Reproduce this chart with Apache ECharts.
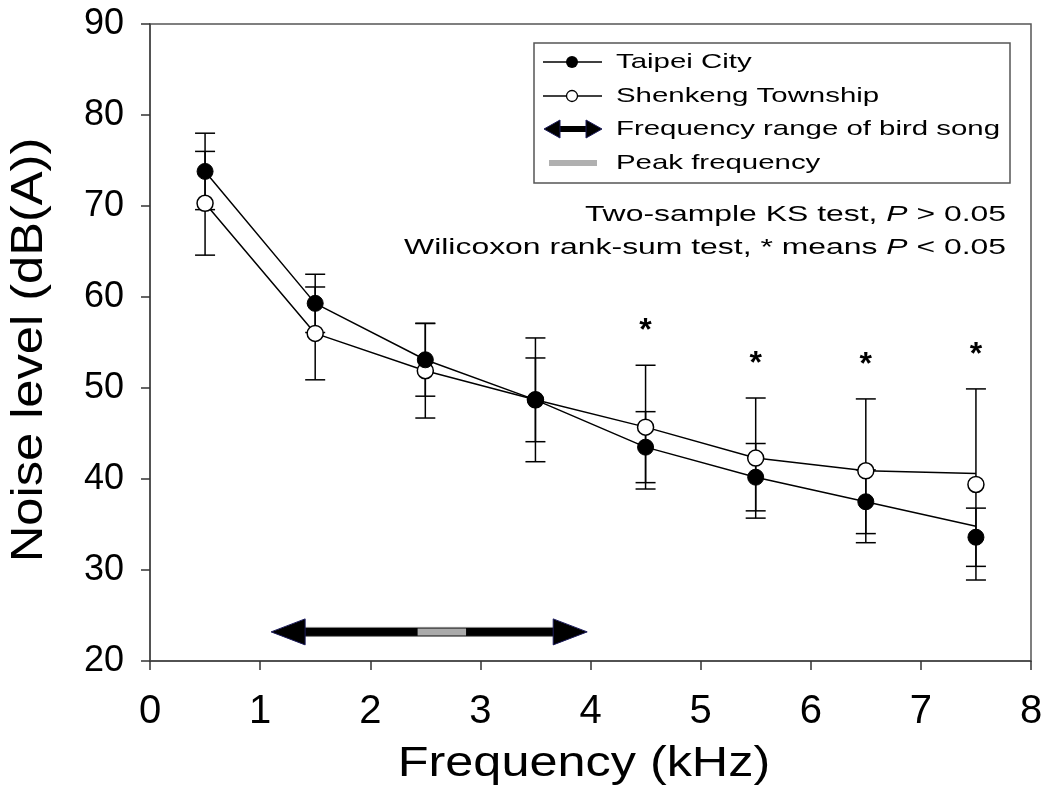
<!DOCTYPE html>
<html>
<head>
<meta charset="utf-8">
<script src="https://cdn.jsdelivr.net/npm/echarts@6/dist/echarts.min.js"></script>
<style>
  html, body { margin: 0; padding: 0; background: #fff; }
  #chart { width: 1046px; height: 791px; }
</style>
</head>
<body>
<div id="chart"></div>
<script>
// Band centre frequencies (kHz)
const frequency = [0.5, 1.5, 2.5, 3.5, 4.5, 5.5, 6.5, 7.5];

// Mean noise level (dB(A)) and error-bar half widths per band
const taipeiMean   = [73.8, 59.3, 53.1, 48.7, 43.5, 40.2, 37.5, 33.6];
const taipeiErr    = [4.2, 3.2, 4.0, 4.6, 3.9, 3.7, 3.5, 3.2];
const shenkengMean = [70.3, 56.0, 51.9, 48.7, 45.7, 42.3, 40.9, 39.4];
const shenkengErr  = [5.7, 5.1, 5.2, 6.8, 6.8, 6.6, 7.9, 10.5];

// Connecting-line vertices (the last segment ends slightly above the final means)
const taipeiLine   = [73.8, 59.3, 53.1, 48.7, 43.5, 40.2, 37.5, 34.8];
const shenkengLine = [70.3, 56.0, 51.9, 48.7, 45.7, 42.3, 40.9, 40.6];

// Wilcoxon rank-sum significance per band
const significant = [false, false, false, false, true, true, true, true];

// Bird song frequency range and peak frequency (kHz), drawn at this level
const songRange = [1.1, 3.97];
const peakRange = [2.43, 2.87];
const arrowLevel = 23.2;

// Axis ranges
const xRange = [0, 8, 1];
const yRange = [20, 90, 10];

const FONT = '"Liberation Sans", Arial, sans-serif';
const INK = '#000';

function errorBars(name, mean, err, z) {
  return {
    type: 'custom',
    name: name,
    z: z,
    silent: true,
    encode: { x: 0, y: [1, 2] },
    data: frequency.map((f, i) => [f, mean[i] - err[i], mean[i] + err[i]]),
    renderItem: function (params, api) {
      const x = api.value(0);
      const lo = api.coord([x, api.value(1)]);
      const hi = api.coord([x, api.value(2)]);
      const hw = 10;
      const style = { stroke: INK, lineWidth: 1.5 };
      return {
        type: 'group',
        children: [
          { type: 'line', shape: { x1: lo[0], y1: lo[1], x2: hi[0], y2: hi[1] }, style: style },
          { type: 'line', shape: { x1: lo[0] - hw, y1: lo[1], x2: lo[0] + hw, y2: lo[1] }, style: style },
          { type: 'line', shape: { x1: hi[0] - hw, y1: hi[1], x2: hi[0] + hw, y2: hi[1] }, style: style }
        ]
      };
    }
  };
}

// Asterisks sit a fixed distance above the highest error bar of a band
const starData = [];
frequency.forEach((f, i) => {
  if (significant[i]) {
    starData.push([f, Math.max(taipeiMean[i] + taipeiErr[i], shenkengMean[i] + shenkengErr[i])]);
  }
});

const option = {
  backgroundColor: '#fff',
  animation: false,
  grid: {
    left: 150, top: 24, width: 881, height: 637,
    show: true, borderColor: '#555', borderWidth: 1.5,
    containLabel: false, outerBoundsMode: 'none'
  },
  xAxis: {
    type: 'value', min: xRange[0], max: xRange[1], interval: xRange[2],
    axisLine: { show: true, onZero: false, lineStyle: { color: '#444', width: 1.5 } },
    axisTick: { show: true, inside: false, length: 9, lineStyle: { color: '#333', width: 1.5 } },
    axisLabel: { fontSize: 40, fontFamily: FONT, color: INK, margin: 31 },
    splitLine: { show: false }
  },
  yAxis: {
    type: 'value', min: yRange[0], max: yRange[1], interval: yRange[2],
    axisLine: { show: true, onZero: false, lineStyle: { color: '#444', width: 1.5 } },
    axisTick: { show: true, inside: false, length: 9, lineStyle: { color: '#333', width: 1.5 } },
    axisLabel: { fontSize: 36, fontFamily: FONT, color: INK, margin: 26 },
    splitLine: { show: false }
  },
  series: [
    errorBars('Shenkeng error', shenkengMean, shenkengErr, 1),
    errorBars('Taipei error', taipeiMean, taipeiErr, 1),
    {
      type: 'line', name: 'Shenkeng Township line', z: 2, silent: true,
      data: frequency.map((f, i) => [f, shenkengLine[i]]),
      showSymbol: false, lineStyle: { color: INK, width: 1.5 }
    },
    {
      type: 'line', name: 'Taipei City line', z: 2, silent: true,
      data: frequency.map((f, i) => [f, taipeiLine[i]]),
      showSymbol: false, lineStyle: { color: INK, width: 1.5 }
    },
    {
      type: 'scatter', name: 'Shenkeng Township', z: 3, silent: true,
      data: frequency.map((f, i) => [f, shenkengMean[i]]),
      symbol: 'circle', symbolSize: 16,
      itemStyle: { color: '#fff', borderColor: INK, borderWidth: 1.5, opacity: 1 }
    },
    {
      type: 'scatter', name: 'Taipei City', z: 4, silent: true,
      data: frequency.map((f, i) => [f, taipeiMean[i]]),
      symbol: 'circle', symbolSize: 16,
      itemStyle: { color: INK, borderColor: INK, borderWidth: 1, opacity: 1 }
    },
    {
      type: 'custom', name: 'significance', z: 5, silent: true,
      encode: { x: 0, y: 1 },
      data: starData,
      renderItem: function (params, api) {
        const p = api.coord([api.value(0), api.value(1)]);
        return {
          type: 'text', x: p[0], y: p[1] - 34,
          style: { text: '*', fontSize: 32, fontWeight: 'bold', fontFamily: FONT, fill: INK, align: 'center', verticalAlign: 'middle' }
        };
      }
    },
    {
      type: 'custom', name: 'bird song range', z: 5, silent: true,
      encode: { x: [0, 1, 2, 3], y: 4 },
      data: [[songRange[0], songRange[1], peakRange[0], peakRange[1], arrowLevel]],
      renderItem: function (params, api) {
        const lvl = api.value(4);
        const a = api.coord([api.value(0), lvl]);
        const b = api.coord([api.value(1), lvl]);
        const p0 = api.coord([api.value(2), lvl]);
        const p1 = api.coord([api.value(3), lvl]);
        const y = a[1];
        const headLen = 34, headHalf = 13, barHalf = 4.5;
        return {
          type: 'group',
          children: [
            { type: 'rect', shape: { x: a[0] + headLen - 2, y: y - barHalf, width: b[0] - a[0] - 2 * headLen + 4, height: 2 * barHalf },
              style: { fill: '#000', stroke: '#888', lineWidth: 0.8 } },
            { type: 'rect', shape: { x: p0[0], y: y - barHalf + 1, width: p1[0] - p0[0], height: 2 * barHalf - 2 },
              style: { fill: '#aaa' } },
            { type: 'polygon', shape: { points: [[a[0], y], [a[0] + headLen, y - headHalf], [a[0] + headLen, y + headHalf]] },
              style: { fill: '#000', stroke: '#1c1c5c', lineWidth: 1 } },
            { type: 'polygon', shape: { points: [[b[0], y], [b[0] - headLen, y - headHalf], [b[0] - headLen, y + headHalf]] },
              style: { fill: '#000', stroke: '#1c1c5c', lineWidth: 1 } }
          ]
        };
      }
    }
  ],
  graphic: [
    // Axis titles
    { type: 'text', x: 584, y: 764, scaleX: 1.2, silent: true,
      style: { text: 'Frequency (kHz)', fontSize: 42, fontFamily: FONT, fill: INK, align: 'center', verticalAlign: 'middle' } },
    { type: 'text', x: 30, y: 350, rotation: Math.PI / 2, scaleX: 1.15, silent: true,
      style: { text: 'Noise level (dB(A))', fontSize: 44, fontFamily: FONT, fill: INK, align: 'center', verticalAlign: 'middle' } },

    // Legend box
    { type: 'rect', shape: { x: 534, y: 43, width: 476, height: 140 }, silent: true,
      style: { fill: '#fff', stroke: '#555', lineWidth: 1.5 }, z: 10 },
    // Taipei City entry
    { type: 'line', shape: { x1: 543, y1: 62, x2: 602, y2: 62 }, style: { stroke: INK, lineWidth: 1.5 }, z: 11, silent: true },
    { type: 'circle', shape: { cx: 572, cy: 62, r: 6 }, style: { fill: INK }, z: 12, silent: true },
    { type: 'text', x: 616, y: 62, scaleX: 1.4, z: 11, silent: true,
      style: { text: 'Taipei City', fontSize: 21, fontFamily: FONT, fill: INK, align: 'left', verticalAlign: 'middle' } },
    // Shenkeng Township entry
    { type: 'line', shape: { x1: 543, y1: 96, x2: 602, y2: 96 }, style: { stroke: INK, lineWidth: 1.5 }, z: 11, silent: true },
    { type: 'circle', shape: { cx: 572, cy: 96, r: 5.5 }, style: { fill: '#fff', stroke: INK, lineWidth: 1.3 }, z: 12, silent: true },
    { type: 'text', x: 616, y: 96, scaleX: 1.4, z: 11, silent: true,
      style: { text: 'Shenkeng Township', fontSize: 21, fontFamily: FONT, fill: INK, align: 'left', verticalAlign: 'middle' } },
    // Frequency range entry
    { type: 'rect', shape: { x: 556, y: 126, width: 34, height: 6 }, style: { fill: '#000' }, z: 11, silent: true },
    { type: 'polygon', shape: { points: [[544, 129], [560, 120], [560, 138]] }, style: { fill: '#000', stroke: '#1c1c5c', lineWidth: 1 }, z: 12, silent: true },
    { type: 'polygon', shape: { points: [[602, 129], [586, 120], [586, 138]] }, style: { fill: '#000', stroke: '#1c1c5c', lineWidth: 1 }, z: 12, silent: true },
    { type: 'text', x: 616, y: 129, scaleX: 1.4, z: 11, silent: true,
      style: { text: 'Frequency range of bird song', fontSize: 21, fontFamily: FONT, fill: INK, align: 'left', verticalAlign: 'middle' } },
    // Peak frequency entry
    { type: 'rect', shape: { x: 549, y: 160, width: 48, height: 6 }, style: { fill: '#b0b0b0' }, z: 11, silent: true },
    { type: 'text', x: 616, y: 163, scaleX: 1.4, z: 11, silent: true,
      style: { text: 'Peak frequency', fontSize: 21, fontFamily: FONT, fill: INK, align: 'left', verticalAlign: 'middle' } },

    // Test notes
    { type: 'text', x: 1006, y: 215, scaleX: 1.45, silent: true, z: 11,
      style: { text: 'Two-sample KS test, {i|P} > 0.05', fontSize: 22, fontFamily: FONT, fill: INK, align: 'right', verticalAlign: 'middle',
        rich: { i: { fontSize: 22, fontFamily: FONT, fontStyle: 'italic', fill: INK } } } },
    { type: 'text', x: 1006, y: 248, scaleX: 1.45, silent: true, z: 11,
      style: { text: 'Wilicoxon rank-sum test, * means {i|P} < 0.05', fontSize: 22, fontFamily: FONT, fill: INK, align: 'right', verticalAlign: 'middle',
        rich: { i: { fontSize: 22, fontFamily: FONT, fontStyle: 'italic', fill: INK } } } }
  ]
};

const chart = echarts.init(document.getElementById('chart'), null, { renderer: 'canvas' });
chart.setOption(option);
</script>
</body>
</html>
